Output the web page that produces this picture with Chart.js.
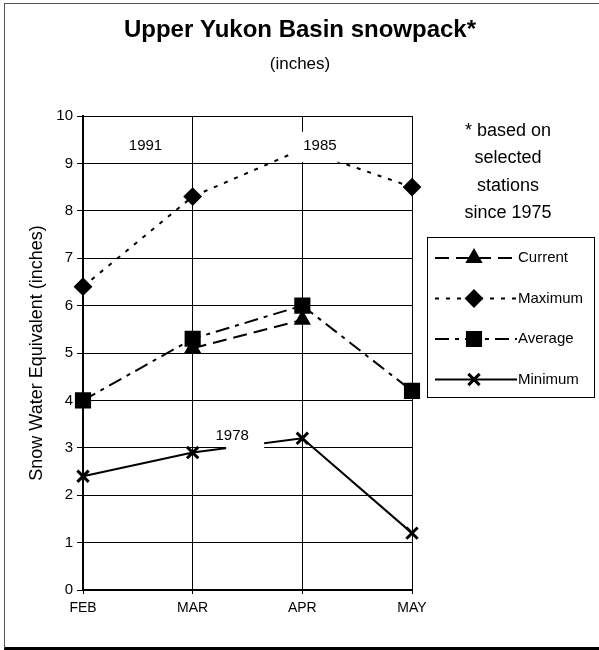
<!DOCTYPE html>
<html>
<head>
<meta charset="utf-8">
<script src="https://cdn.jsdelivr.net/npm/chart.js@4.4.1/dist/chart.umd.min.js"></script>
<style>
  body { margin: 0; background: #fff; }
  #wrap { position: relative; width: 599px; height: 650px; }
  #frame { position: absolute; left: 4px; top: 3px; right: 0; bottom: 0;
           border-left: 1px solid #555; border-top: 1px solid #555; border-bottom: 3px solid #000; }
  canvas { position: absolute; left: 0; top: 0; }
</style>
</head>
<body>
<div id="wrap">
  <div id="frame"></div>
  <canvas id="chart" width="599" height="650"></canvas>
</div>
<script>
// months on the x axis
const months = ['FEB', 'MAR', 'APR', 'MAY'];

// snow water equivalent, inches
const current = [null, 5.1, 5.7, null];
const maximum = [6.4, 8.3, 9.3, 8.5];
const average = [4.0, 5.3, 6.0, 4.2];
const minimum = [2.4, 2.9, 3.2, 1.2];

const yTicks = [0, 1, 2, 3, 4, 5, 6, 7, 8, 9, 10];

// year notes placed on the chart (x = category index, y = value)
const notes = [
  { text: '1991', x: 0.57, y: 9.36, box: [-16, -14, 18, 14] },
  { text: '1985', x: 2.16, y: 9.37, box: [-27, -14, 25, 16] },
  { text: '1978', x: 1.36, y: 3.25, box: [-6, -10, 32, 16] }
];

const footnote = ['* based on', 'selected', 'stations', 'since 1975'];

const FONT = 'Arial, "Liberation Sans", sans-serif';

const texts = {
  id: 'texts',
  afterDraw(chart) {
    const ctx = chart.ctx;
    ctx.save();
    ctx.fillStyle = '#000';
    ctx.textAlign = 'center';
    ctx.textBaseline = 'middle';
    ctx.font = 'bold 24px ' + FONT;
    ctx.fillText('Upper Yukon Basin snowpack*', 300, 30);
    ctx.font = '17px ' + FONT;
    ctx.fillText('(inches)', 300, 64);
    ctx.font = '18px ' + FONT;
    footnote.forEach((t, i) => ctx.fillText(t, 508, 131 + i * 27.5));
    ctx.restore();
  }
};

const yearNotes = {
  id: 'yearNotes',
  afterDatasetsDraw(chart) {
    const ctx = chart.ctx;
    const xs = chart.scales.x, ys = chart.scales.y;
    ctx.save();
    ctx.font = '15px ' + FONT;
    ctx.textAlign = 'center';
    ctx.textBaseline = 'middle';
    notes.forEach(n => {
      const px = xs.getPixelForValue(n.x);
      const py = ys.getPixelForValue(n.y);
      const b = n.box;
      ctx.fillStyle = '#fff';
      ctx.fillRect(px + b[0], py + b[1], b[2] - b[0], b[3] - b[1]);
      ctx.fillStyle = '#000';
      ctx.fillText(n.text, px, py);
    });
    ctx.restore();
  }
};

const boxLegend = {
  id: 'boxLegend',
  afterDraw(chart) {
    const ctx = chart.ctx;
    ctx.save();
    ctx.strokeStyle = '#000';
    ctx.lineWidth = 1;
    ctx.strokeRect(427.5, 237.5, 167, 160);
    ctx.font = '15px ' + FONT;
    ctx.textBaseline = 'middle';
    ctx.textAlign = 'left';
    chart.data.datasets.forEach((ds, i) => {
      const y = 258 + i * 40.5;
      ctx.strokeStyle = '#000';
      ctx.lineWidth = ds.borderWidth;
      ctx.setLineDash(ds.borderDash || []);
      ctx.beginPath();
      ctx.moveTo(435, y);
      ctx.lineTo(517, y);
      ctx.stroke();
      ctx.setLineDash([]);
      ctx.fillStyle = '#000';
      ctx.lineWidth = ds.pointBorderWidth;
      Chart.helpers.drawPoint(ctx, {
        pointStyle: ds.pointStyle, radius: ds.pointRadius, rotation: 0, borderWidth: ds.pointBorderWidth
      }, 474, y);
      ctx.fillStyle = '#000';
      ctx.fillText(ds.label, 518, y);
    });
    ctx.restore();
  }
};

function line(label, data, dash, style, r, pw) {
  return {
    label, data,
    borderColor: '#000', backgroundColor: '#000',
    borderWidth: 2, borderDash: dash,
    pointStyle: style, pointRadius: r, pointHoverRadius: r,
    pointBorderWidth: pw, pointBorderColor: '#000', pointBackgroundColor: '#000',
    tension: 0, spanGaps: false
  };
}

new Chart(document.getElementById('chart'), {
  type: 'line',
  data: {
    labels: months,
    datasets: [
      line('Current', current, [14, 7], 'triangle', 8, 2),
      line('Maximum', maximum, [4, 7], 'rectRot', 8, 2),
      line('Average', average, [14, 6, 4, 6], 'rect', 10, 2),
      line('Minimum', minimum, [], 'crossRot', 8, 3)
    ]
  },
  options: {
    responsive: false,
    animation: false,
    layout: { padding: { left: 26, right: 187, top: 116, bottom: 0 } },
    plugins: { legend: { display: false }, tooltip: { enabled: false } },
    scales: {
      x: {
        offset: false,
        grid: { color: '#000', lineWidth: 1, tickLength: 4, tickColor: '#000' },
        border: { color: '#000', width: 2 },
        ticks: { color: '#000', font: { size: 14, family: FONT }, padding: 6, maxRotation: 0 },
        afterFit(s) { s.height = 60; }
      },
      y: {
        min: 0, max: 10,
        afterBuildTicks(s) { s.ticks = yTicks.map(v => ({ value: v })); },
        grid: { color: '#000', lineWidth: 1, tickLength: 6, tickColor: '#000' },
        border: { color: '#000', width: 2 },
        ticks: { color: '#000', font: { size: 15, family: FONT }, padding: 4 },
        title: { display: true, text: 'Snow Water Equivalent (inches)', color: '#000',
                 font: { size: 18, family: FONT }, padding: 0 },
        afterFit(s) { s.width = 57; }
      }
    }
  },
  plugins: [yearNotes, boxLegend, texts]
});
</script>
</body>
</html>
